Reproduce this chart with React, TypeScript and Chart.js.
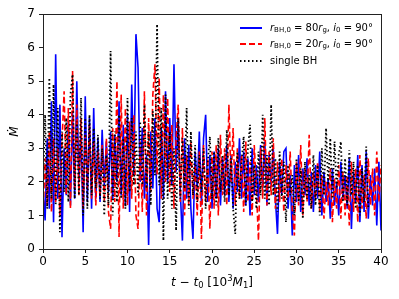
import React, { useEffect, useRef } from "react";
import { Chart, registerables } from "chart.js";

Chart.register(...registerables);

const T_START = 0;
const T_STEP = 0.25;

const blueValues = [
  1.8, 0.85, 3.3, 1.2, 4.4, 0.8, 5.8, 1.5, 4.3, 0.35, 3.0, 1.6, 3.8, 1.3, 4.1, 1.5,
  5.0, 2.0, 3.6, 0.5, 4.55, 1.4, 3.9, 1.2, 4.2, 1.5, 3.3, 1.4, 3.55, 1.9, 3.2, 1.7,
  3.5, 1.5, 3.4, 2.0, 4.4, 1.6, 3.7, 1.3, 4.0, 1.1, 4.9, 2.2, 6.4, 5.4, 2.0, 3.6,
  1.5, 2.8, 0.12, 3.5, 1.8, 3.9, 1.2, 0.8, 3.6, 1.5, 4.7, 2.0, 3.9, 1.9, 5.5, 2.3,
  3.9, 1.7, 0.25, 3.3, 1.5, 3.1, 1.2, 0.3, 2.9, 1.8, 3.5, 1.3, 3.3, 4.0, 1.4, 2.8,
  1.2, 2.9, 1.5, 3.0, 1.3, 2.7, 1.6, 3.1, 1.4, 2.8, 1.2, 2.6, 1.7, 3.3, 1.5, 2.9,
  1.3, 2.7, 1.0, 3.0, 1.6, 2.5, 1.4, 3.1, 1.8, 3.2, 1.3, 2.8, 1.9, 3.0, 1.5, 0.45,
  2.6, 1.6, 2.9, 3.0, 1.2, 2.2, 0.4, 2.5, 1.4, 2.8, 1.1, 2.4, 1.6, 2.7, 1.3, 2.3,
  1.1, 2.5, 1.5, 2.9, 1.0, 2.3, 1.4, 2.1, 0.9, 2.4, 1.3, 2.0, 1.0, 2.6, 1.5, 2.2,
  1.2, 2.7, 0.6, 2.3, 1.4, 2.8, 0.8, 2.5, 1.1, 2.9, 0.9, 2.2, 1.3, 2.4, 0.7, 2.6,
  0.55,
];

const redValues = [
  1.0, 2.7, 1.3, 3.5, 1.1, 3.3, 1.4, 3.0, 1.0, 3.2, 4.7, 1.6, 4.2, 1.2, 5.3, 1.8,
  4.3, 1.6, 3.9, 1.2, 3.4, 1.8, 3.7, 1.5, 3.2, 1.3, 2.9, 1.6, 3.1, 1.4, 3.3, 1.1,
  0.6, 3.6, 1.4, 5.0, 0.36, 4.6, 1.2, 4.2, 1.3, 3.8, 1.5, 4.0, 1.0, 0.6, 3.2, 1.1,
  4.7, 1.0, 3.9, 1.7, 4.6, 5.5, 2.2, 5.1, 1.5, 4.6, 2.0, 4.5, 1.7, 3.7, 1.2, 3.3,
  4.3, 1.4, 3.6, 1.0, 2.8, 1.3, 3.2, 1.5, 2.5, 1.0, 2.9, 0.3, 3.1, 1.4, 2.7, 0.6,
  2.9, 1.2, 3.1, 1.0, 3.4, 1.6, 3.0, 1.3, 4.3, 2.0, 3.6, 1.3, 3.0, 1.5, 2.8, 1.1,
  3.2, 1.4, 2.6, 1.0, 3.1, 1.8, 0.25, 3.0, 1.5, 3.9, 1.3, 2.9, 1.6, 3.3, 1.2, 2.6,
  1.4, 2.7, 1.1, 2.5, 1.5, 2.9, 1.2, 0.4, 2.6, 1.3, 3.1, 1.0, 2.4, 1.4, 3.4, 1.2,
  2.3, 1.5, 2.6, 1.1, 2.2, 0.9, 2.0, 1.3, 2.4, 0.8, 2.1, 1.2, 2.5, 0.9, 2.3, 1.0,
  2.2, 0.7, 2.6, 1.1, 2.4, 0.8, 2.8, 1.2, 2.2, 0.9, 2.7, 1.3, 2.4, 1.0, 2.9, 1.4,
  2.5,
];

const blackValues = [
  1.8, 4.0, 1.2, 5.1, 1.5, 4.9, 1.3, 4.2, 0.5, 3.5, 1.7, 3.9, 1.4, 4.6, 5.2, 1.5,
  3.8, 1.6, 4.5, 1.0, 3.9, 1.2, 4.0, 1.6, 3.6, 1.8, 3.4, 1.5, 3.0, 1.0, 2.8, 1.3,
  5.9, 1.0, 3.5, 1.4, 4.0, 1.5, 3.3, 1.2, 4.5, 1.7, 3.9, 1.9, 3.5, 1.6, 3.8, 1.9,
  4.3, 1.8, 3.5, 1.3, 4.1, 2.2, 6.7, 1.9, 4.2, 0.25, 4.6, 1.5, 3.5, 1.2, 3.0, 0.55,
  3.9, 1.5, 3.3, 1.8, 4.2, 1.2, 3.5, 1.6, 3.1, 1.4, 2.8, 1.7, 3.0, 1.2, 2.6, 3.35,
  1.5, 2.9, 1.3, 3.3, 1.7, 2.8, 1.4, 3.55, 1.6, 2.7, 1.2, 0.45, 2.9, 1.5, 2.6, 3.35,
  1.3, 3.0, 3.7, 1.4, 2.5, 1.2, 2.9, 1.6, 4.0, 1.5, 2.8, 1.3, 4.3, 1.6, 2.7, 1.1,
  2.9, 1.5, 2.6, 0.8, 2.5, 1.6, 2.2, 1.0, 2.7, 1.4, 2.4, 0.9, 2.6, 1.5, 2.2, 1.2,
  2.8, 1.3, 2.5, 1.0, 3.0, 1.6, 3.6, 1.9, 3.3, 1.5, 3.2, 1.8, 2.8, 3.2, 1.4, 2.7,
  1.3, 2.95, 1.6, 2.6, 1.2, 2.5, 1.0, 2.4, 1.4, 3.05, 1.2,
];

const xTicks = [0, 5, 10, 15, 20, 25, 30, 35, 40];
const yTicks = [0, 1, 2, 3, 4, 5, 6, 7];

const seriesColors = ["#0000ff", "#ff0000", "#000000"];

type Part = { t: string; it?: boolean; sub?: boolean; sup?: boolean };

const legendLabels: Part[][] = [
  [
    { t: "r", it: true }, { t: "BH,0", sub: true }, { t: " = 80" }, { t: "r", it: true },
    { t: "g", sub: true }, { t: ", " }, { t: "i", it: true }, { t: "0", sub: true }, { t: " = 90°" },
  ],
  [
    { t: "r", it: true }, { t: "BH,0", sub: true }, { t: " = 20" }, { t: "r", it: true },
    { t: "g", sub: true }, { t: ", " }, { t: "i", it: true }, { t: "0", sub: true }, { t: " = 90°" },
  ],
  [{ t: "single BH" }],
];

const xLabel: Part[] = [
  { t: "t", it: true }, { t: " − " }, { t: "t", it: true }, { t: "0", sub: true },
  { t: " [10" }, { t: "3", sup: true }, { t: "M", it: true }, { t: "1", sub: true }, { t: "]" },
];

const FAMILY = '"DejaVu Sans", sans-serif';

function toPoints(vals: number[]) {
  return vals.map((v, i) => ({ x: T_START + i * T_STEP, y: v }));
}

function drawRich(ctx: CanvasRenderingContext2D, parts: Part[], x: number, y: number, size: number, align: "left" | "center") {
  const fontFor = (p: Part) => {
    const s = p.sub || p.sup ? size * 0.7 : size;
    return `${p.it ? "italic " : ""}${s}px ${FAMILY}`;
  };
  let total = 0;
  for (const p of parts) {
    ctx.font = fontFor(p);
    total += ctx.measureText(p.t).width;
  }
  let cx = align === "center" ? x - total / 2 : x;
  ctx.textBaseline = "middle";
  ctx.textAlign = "left";
  for (const p of parts) {
    ctx.font = fontFor(p);
    const dy = p.sub ? size * 0.25 : p.sup ? -size * 0.35 : 0;
    ctx.fillText(p.t, cx, y + dy);
    cx += ctx.measureText(p.t).width;
  }
}

const decorPlugin = {
  id: "decor",
  afterDraw(chart: any) {
    const ctx = chart.ctx as CanvasRenderingContext2D;
    const a = chart.chartArea;
    ctx.save();
    ctx.strokeStyle = "#222";
    ctx.lineWidth = 1;
    ctx.strokeRect(Math.round(a.left) + 0.5, Math.round(a.top) + 0.5, Math.round(a.right - a.left), Math.round(a.bottom - a.top));

    // legend
    const rows = [28, 44, 61];
    const dashes = [[], [6, 3], [1.5, 2.5]];
    rows.forEach((ry, i) => {
      ctx.beginPath();
      ctx.setLineDash(dashes[i]);
      ctx.strokeStyle = seriesColors[i];
      ctx.lineWidth = 2;
      ctx.moveTo(240, ry);
      ctx.lineTo(262, ry);
      ctx.stroke();
      ctx.setLineDash([]);
      ctx.fillStyle = "#000";
      drawRich(ctx, legendLabels[i], 270, ry, 10, "left");
    });

    // x label
    ctx.fillStyle = "#000";
    drawRich(ctx, xLabel, (a.left + a.right) / 2, 283, 12, "center");

    // y label
    ctx.save();
    ctx.translate(15, (a.top + a.bottom) / 2);
    ctx.rotate(-Math.PI / 2);
    ctx.font = `italic 12px ${FAMILY}`;
    ctx.textAlign = "center";
    ctx.textBaseline = "middle";
    ctx.fillText("Ṁ", 0, 0);
    ctx.restore();
    ctx.restore();
  },
};

export default function App() {
  const ref = useRef<HTMLCanvasElement | null>(null);
  useEffect(() => {
    if (!ref.current) return;
    const tickFont = { family: FAMILY, size: 12 };
    const chart = new Chart(ref.current, {
      type: "line",
      data: {
        datasets: [
          {
            label: "rBH,0 = 80rg, i0 = 90°",
            data: toPoints(blueValues),
            borderColor: seriesColors[0],
            borderWidth: 1.6,
            pointRadius: 0,
            order: 3,
          },
          {
            label: "rBH,0 = 20rg, i0 = 90°",
            data: toPoints(redValues),
            borderColor: seriesColors[1],
            borderWidth: 1.6,
            borderDash: [6, 3],
            pointRadius: 0,
            order: 2,
          },
          {
            label: "single BH",
            data: toPoints(blackValues),
            borderColor: seriesColors[2],
            borderWidth: 1.8,
            borderDash: [1.5, 2.5],
            pointRadius: 0,
            order: 1,
          },
        ],
      },
      options: {
        animation: false,
        responsive: false,
        layout: { padding: { left: 0, right: 18, top: 14, bottom: 0 } },
        plugins: { legend: { display: false }, tooltip: { enabled: false } },
        scales: {
          x: {
            type: "linear",
            min: 0,
            max: 40,
            afterBuildTicks: (s: any) => { s.ticks = xTicks.map((v) => ({ value: v })); },
            afterFit: (s: any) => { s.height = 50; },
            grid: { display: true, drawOnChartArea: false, drawTicks: true, tickLength: 4, color: "#222" },
            border: { display: true, color: "#222" },
            ticks: { font: tickFont, color: "#000", padding: 2, maxRotation: 0 },
          },
          y: {
            type: "linear",
            min: 0,
            max: 7,
            afterBuildTicks: (s: any) => { s.ticks = yTicks.map((v) => ({ value: v })); },
            afterFit: (s: any) => { s.width = 43; },
            grid: { display: true, drawOnChartArea: false, drawTicks: true, tickLength: 4, color: "#222" },
            border: { display: true, color: "#222" },
            ticks: { font: tickFont, color: "#000", padding: 4 },
          },
        },
      },
      plugins: [decorPlugin],
    } as any);
    return () => chart.destroy();
  }, []);
  return (
    <div style={{ position: "absolute", left: 0, top: 0, width: 399, height: 299, background: "#fff" }}>
      <canvas ref={ref} width={399} height={299} style={{ width: 399, height: 299 }} />
    </div>
  );
}
